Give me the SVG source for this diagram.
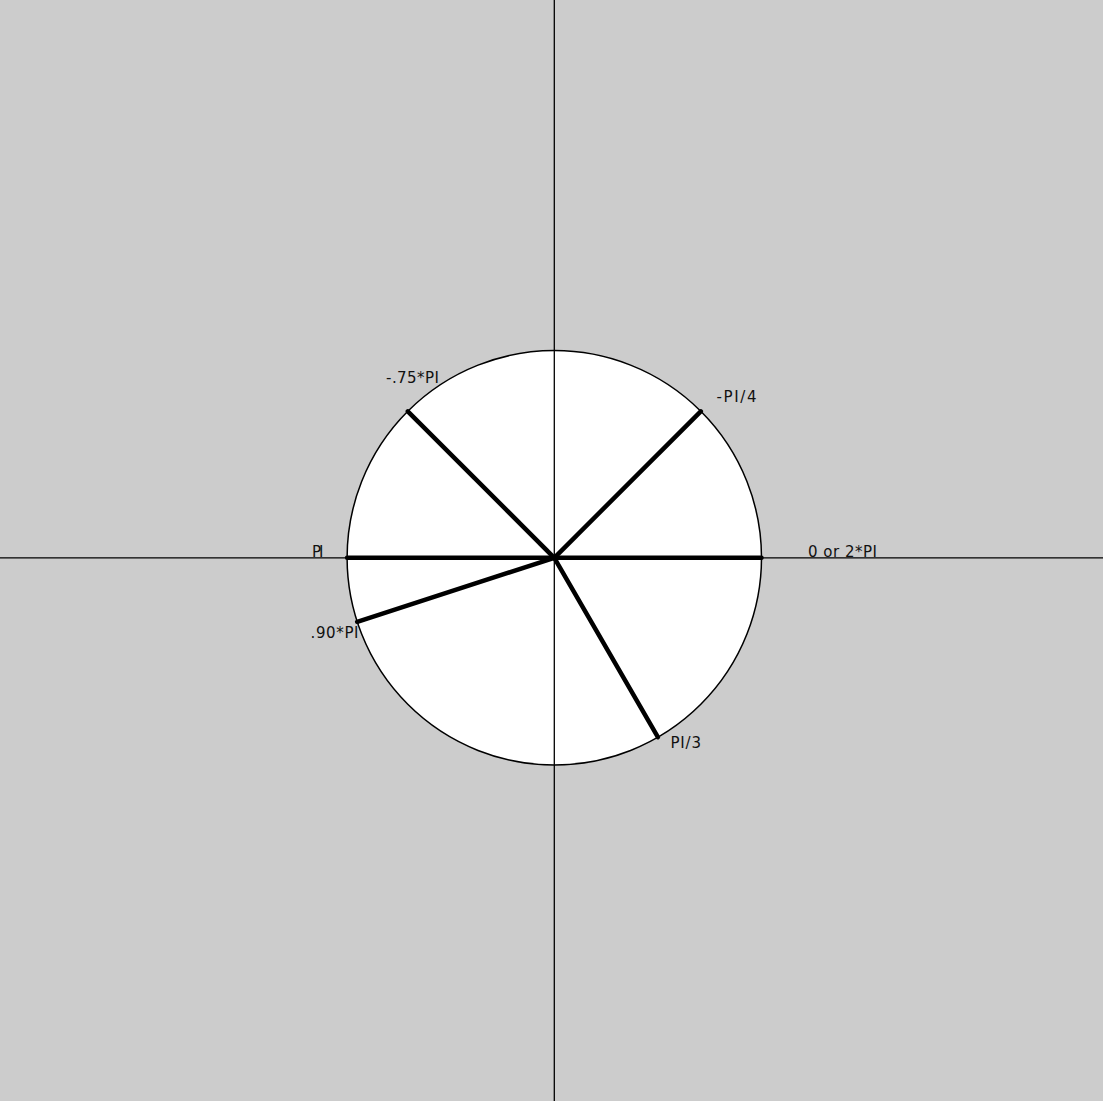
<svg xmlns="http://www.w3.org/2000/svg" width="1103" height="1101" viewBox="0 0 1103 1101">
<style>
.axis{stroke:#000;stroke-width:1.3;fill:none}
.ray{stroke:#000;stroke-width:4.5;stroke-linecap:round;fill:none}
.lbl{font-family:"DejaVu Sans","Liberation Sans",sans-serif;font-size:15px;fill:#111}
</style>
<rect x="0" y="0" width="1103" height="1101" fill="#cccccc"/>
<g id="circle"><circle cx="554.3" cy="557.8" r="207.2" fill="#ffffff" stroke="#000" stroke-width="1.5"/></g>
<g id="connectors">
<line class="axis" x1="554.3" y1="0" x2="554.3" y2="1101"/>
<line class="axis" x1="0" y1="557.8" x2="1103" y2="557.8"/>
<line class="ray" x1="554.3" y1="557.8" x2="761.5" y2="557.8"/>
<line class="ray" x1="554.3" y1="557.8" x2="347.1" y2="557.8"/>
<line class="ray" x1="554.3" y1="557.8" x2="700.8" y2="411.3"/>
<line class="ray" x1="554.3" y1="557.8" x2="407.8" y2="411.3"/>
<line class="ray" x1="554.3" y1="557.8" x2="357.2" y2="621.8"/>
<line class="ray" x1="554.3" y1="557.8" x2="657.9" y2="737.2"/>
</g>
<g id="labels">
<text class="lbl" x="386" y="383" textLength="53" lengthAdjust="spacing">-.75*PI</text>
<text class="lbl" x="716.5" y="401.5" textLength="40" lengthAdjust="spacing">-PI/4</text>
<text class="lbl" x="312" y="557" textLength="11.5" lengthAdjust="spacing">PI</text>
<text class="lbl" x="310.5" y="638" textLength="48" lengthAdjust="spacing">.90*PI</text>
<text class="lbl" x="808" y="556.5" textLength="69" lengthAdjust="spacing">0 or 2*PI</text>
<text class="lbl" x="670.5" y="748.3" textLength="30.5" lengthAdjust="spacing">PI/3</text>
</g>
</svg>
